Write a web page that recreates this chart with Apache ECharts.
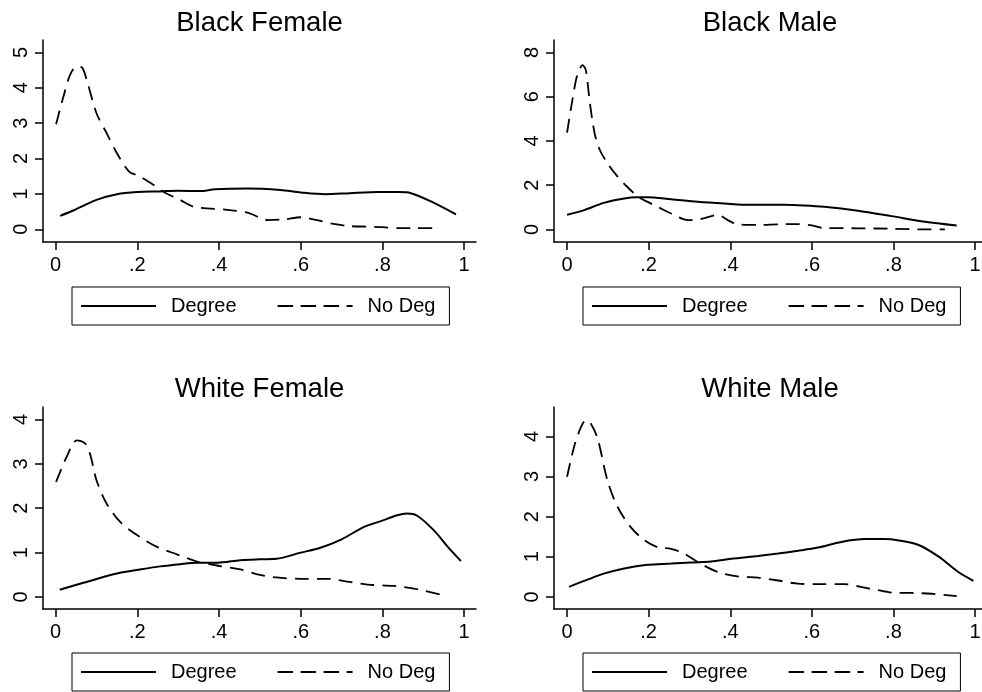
<!DOCTYPE html>
<html>
<head>
<meta charset="utf-8">
<script src="https://cdn.jsdelivr.net/npm/echarts@6/dist/echarts.min.js"></script>
<style>
html,body{margin:0;padding:0;background:#fff;}
#chart{width:982px;height:692px;}
</style>
</head>
<body>
<div id="chart"></div>
<script>
// ---- data ----
const panelTitles = ['Black Female', 'Black Male', 'White Female', 'White Male'];
const seriesNames = ['Degree', 'No Deg'];
const xTicks = [0, 0.2, 0.4, 0.6, 0.8, 1];
const xTickLabels = ['0', '.2', '.4', '.6', '.8', '1'];
const yTicksBlackFemale = [0, 1, 2, 3, 4, 5];
const yTicksBlackMale = [0, 2, 4, 6, 8];
const yTicksWhiteFemale = [0, 1, 2, 3, 4];
const yTicksWhiteMale = [0, 1, 2, 3, 4];

const blackFemaleDegree = [[0.011,0.38],[0.043,0.53],[0.1,0.83],[0.15,0.99],[0.2,1.05],[0.255,1.07],[0.3,1.09],[0.353,1.08],[0.39,1.13],[0.47,1.15],[0.55,1.11],[0.6,1.04],[0.66,0.99],[0.72,1.02],[0.79,1.05],[0.84,1.05],[0.87,1.02],[0.92,0.78],[0.98,0.42]];
const blackFemaleNoDeg = [[0.001,2.97],[0.019,3.75],[0.035,4.36],[0.051,4.6],[0.064,4.58],[0.076,4.22],[0.1,3.28],[0.125,2.71],[0.15,2.15],[0.18,1.63],[0.207,1.49],[0.24,1.25],[0.27,1.02],[0.305,0.83],[0.337,0.64],[0.37,0.59],[0.42,0.55],[0.47,0.47],[0.52,0.26],[0.56,0.28],[0.6,0.34],[0.64,0.26],[0.68,0.15],[0.72,0.09],[0.76,0.075],[0.8,0.06],[0.84,0.03],[0.88,0.03],[0.94,0.03]];
const blackMaleDegree = [[0,0.66],[0.042,0.87],[0.09,1.2],[0.14,1.4],[0.173,1.45],[0.197,1.45],[0.255,1.36],[0.32,1.25],[0.386,1.17],[0.45,1.11],[0.533,1.11],[0.58,1.08],[0.63,1.02],[0.713,0.84],[0.795,0.6],[0.877,0.35],[0.955,0.18]];
const blackMaleNoDeg = [[0,4.37],[0.013,5.84],[0.025,6.97],[0.038,7.42],[0.046,7.2],[0.056,5.7],[0.068,4.3],[0.08,3.6],[0.097,3.05],[0.121,2.45],[0.146,1.95],[0.175,1.47],[0.2,1.22],[0.222,1.02],[0.255,0.72],[0.296,0.42],[0.328,0.47],[0.37,0.65],[0.394,0.42],[0.418,0.23],[0.468,0.2],[0.517,0.23],[0.566,0.24],[0.6,0.18],[0.63,0.06],[0.713,0.05],[0.795,0.03],[0.877,0.0],[0.926,0.0]];
const whiteFemaleDegree = [[0.01,0.165],[0.068,0.32],[0.109,0.43],[0.15,0.53],[0.207,0.62],[0.256,0.69],[0.305,0.74],[0.346,0.77],[0.395,0.77],[0.452,0.83],[0.5,0.85],[0.54,0.86],[0.6,1.0],[0.648,1.11],[0.7,1.3],[0.755,1.58],[0.796,1.71],[0.836,1.84],[0.86,1.88],[0.885,1.83],[0.926,1.5],[0.96,1.13],[0.992,0.81]];
const whiteFemaleNoDeg = [[0.001,2.59],[0.027,3.16],[0.052,3.53],[0.072,3.46],[0.084,3.23],[0.1,2.63],[0.125,2.1],[0.158,1.69],[0.2,1.39],[0.248,1.13],[0.297,0.96],[0.346,0.8],[0.395,0.71],[0.452,0.62],[0.5,0.5],[0.54,0.44],[0.6,0.41],[0.665,0.41],[0.72,0.34],[0.763,0.28],[0.828,0.25],[0.877,0.19],[0.943,0.05]];
const whiteMaleDegree = [[0.005,0.25],[0.05,0.43],[0.09,0.58],[0.14,0.71],[0.197,0.8],[0.255,0.83],[0.304,0.86],[0.353,0.88],[0.402,0.95],[0.468,1.02],[0.517,1.08],[0.566,1.15],[0.615,1.23],[0.672,1.37],[0.73,1.44],[0.779,1.44],[0.81,1.41],[0.86,1.3],[0.91,1.01],[0.959,0.62],[0.996,0.4]];
const whiteMaleNoDeg = [[0,2.99],[0.017,3.73],[0.034,4.23],[0.046,4.4],[0.058,4.32],[0.075,3.94],[0.099,2.9],[0.124,2.24],[0.156,1.74],[0.19,1.41],[0.222,1.24],[0.255,1.2],[0.287,1.08],[0.32,0.87],[0.37,0.62],[0.418,0.51],[0.468,0.48],[0.517,0.41],[0.566,0.33],[0.615,0.32],[0.68,0.32],[0.72,0.25],[0.762,0.17],[0.795,0.11],[0.844,0.1],[0.894,0.08],[0.955,0.02]];

// ---- layout ----
const FONT = '"Liberation Sans", Arial, Helvetica, sans-serif';
const panels = [
  {grid:{left:43, top:40, width:433, height:202}, xMin:-0.031, xMax:1.029, yMin:-0.36, yMax:5.35, yTicks:yTicksBlackFemale, deg:blackFemaleDegree, nodeg:blackFemaleNoDeg, titleTop:9, legendLeft:72, legendTop:287},
  {grid:{left:554, top:40, width:428, height:202}, xMin:-0.032, xMax:1.017, yMin:-0.57, yMax:8.56, yTicks:yTicksBlackMale, deg:blackMaleDegree, nodeg:blackMaleNoDeg, titleTop:9, legendLeft:583, legendTop:287},
  {grid:{left:43, top:407, width:433, height:202}, xMin:-0.031, xMax:1.029, yMin:-0.27, yMax:4.28, yTicks:yTicksWhiteFemale, deg:whiteFemaleDegree, nodeg:whiteFemaleNoDeg, titleTop:375, legendLeft:72, legendTop:653},
  {grid:{left:554, top:407, width:428, height:202}, xMin:-0.032, xMax:1.017, yMin:-0.30, yMax:4.73, yTicks:yTicksWhiteMale, deg:whiteMaleDegree, nodeg:whiteMaleNoDeg, titleTop:375, legendLeft:583, legendTop:653}
];

const axisLineStyle = {color:'#000', width:1.5};
const option = {
  backgroundColor:'#fff',
  animation:false,
  title:[], grid:[], xAxis:[], yAxis:[], series:[], legend:[]
};

panels.forEach((p, i) => {
  option.grid.push(Object.assign({outerBoundsMode:'none', containLabel:false}, p.grid));
  option.title.push({
    text: panelTitles[i],
    left: p.grid.left + p.grid.width/2 + (i % 2 === 1 ? 2 : 0),
    top: p.titleTop,
    textAlign:'center',
    padding:0,
    textStyle:{fontFamily:FONT, fontSize:27.5, fontWeight:'normal', color:'#000'}
  });
  option.xAxis.push({
    type:'value', gridIndex:i, min:p.xMin, max:p.xMax,
    axisLine:{show:true, onZero:false, lineStyle:axisLineStyle},
    axisTick:{show:true, length:8, customValues:xTicks, lineStyle:axisLineStyle},
    axisLabel:{customValues:xTicks, margin:13, fontFamily:FONT, fontSize:20, color:'#000',
      formatter:(v) => xTickLabels[Math.round(v*5)]},
    splitLine:{show:false}
  });
  option.yAxis.push({
    type:'value', gridIndex:i, min:p.yMin, max:p.yMax,
    axisLine:{show:true, onZero:false, lineStyle:axisLineStyle},
    axisTick:{show:true, length:8, customValues:p.yTicks, lineStyle:axisLineStyle},
    axisLabel:{customValues:p.yTicks, rotate:90, margin:12, fontFamily:FONT, fontSize:20, color:'#000'},
    splitLine:{show:false}
  });
  option.series.push({
    name:seriesNames[0], type:'line', xAxisIndex:i, yAxisIndex:i, data:p.deg,
    symbol:'none', smooth:0.3, color:'#000',
    lineStyle:{color:'#000', width:2, type:'solid'}
  });
  option.series.push({
    name:seriesNames[1], type:'line', xAxisIndex:i, yAxisIndex:i, data:p.nodeg,
    symbol:'none', smooth:0.3, color:'#000',
    lineStyle:{color:'#000', width:1.8, type:[14,8]}
  });
  option.legend.push({
    data:[
      {name:seriesNames[0]},
      {name:seriesNames[1], lineStyle:{type:[15.5,7.5]}}
    ],
    left:p.legendLeft, top:p.legendTop,
    orient:'horizontal', selectedMode:false,
    itemWidth:75, itemHeight:12, itemGap:40,
    itemStyle:{opacity:0, color:'rgba(0,0,0,0)', borderWidth:0},
    lineStyle:{width:2},
    borderColor:'#000', borderWidth:1, borderRadius:0,
    padding:[9,14,9,8],
    textStyle:{fontFamily:FONT, fontSize:20, color:'#000', padding:[0,0,0,10]}
  });
});

const chart = echarts.init(document.getElementById('chart'), null, {renderer:'canvas'});
chart.setOption(option);
</script>
</body>
</html>
